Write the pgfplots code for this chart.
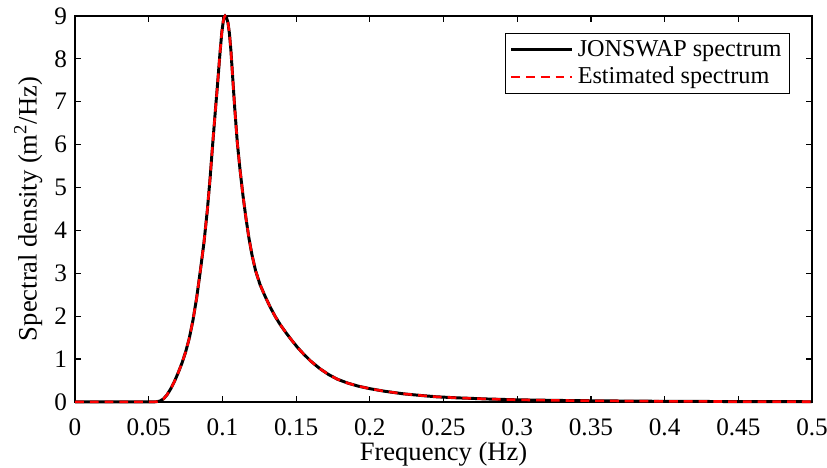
\documentclass[border=0pt]{standalone}
\usepackage{pgfplots}
\pgfplotsset{compat=1.18}
\usepackage{pgfplotstable}
\usepackage{fontspec}
\setmainfont{Liberation Serif}

\pgfplotstableread{
f S
0      0
0.02   0
0.04   0
0.050  0
0.055  0.005
0.0575 0.02
0.060  0.07
0.0625 0.17
0.065  0.31
0.0675 0.48
0.070  0.68
0.0725 0.90
0.075  1.16
0.0775 1.48
0.080  1.90
0.0825 2.42
0.085  3.05
0.0875 3.72
0.0898 4.48
0.0916 5.20
0.0932 5.92
0.0950 6.70
0.0968 7.45
0.0984 8.15
0.0996 8.62
0.1006 8.88
0.1012 8.97
0.1018 9.00
0.1028 8.96
0.1038 8.84
0.1048 8.58
0.1058 8.18
0.1068 7.66
0.1083 6.88
0.1101 6.05
0.1120 5.40
0.1140 4.80
0.1160 4.28
0.1180 3.82
0.1200 3.44
0.1225 3.06
0.1255 2.74
0.1290 2.46
0.1323 2.22
0.1357 2.00
0.1391 1.81
0.1430 1.62
0.1470 1.44
0.1510 1.27
0.1550 1.12
0.1600 0.95
0.1660 0.78
0.1720 0.64
0.1780 0.53
0.1850 0.44
0.1920 0.37
0.2000 0.31
0.2100 0.25
0.2227 0.19
0.2350 0.15
0.2454 0.12
0.2600 0.095
0.2793 0.07
0.3000 0.05
0.3300 0.035
0.3600 0.025
0.4000 0.015
0.4500 0.009
0.5000 0.005
}\jonswap

\pgfplotstableread{
f S
0      0
0.02   0
0.04   0
0.050  0
0.055  0.005
0.0575 0.02
0.060  0.07
0.0625 0.17
0.065  0.31
0.0675 0.48
0.070  0.68
0.0725 0.90
0.075  1.16
0.0775 1.48
0.080  1.90
0.0825 2.42
0.085  3.05
0.0875 3.72
0.0898 4.48
0.0916 5.20
0.0932 5.92
0.0950 6.70
0.0968 7.45
0.0984 8.15
0.0996 8.62
0.1006 8.88
0.1012 8.97
0.1018 9.00
0.1028 8.96
0.1038 8.84
0.1048 8.58
0.1058 8.18
0.1068 7.66
0.1083 6.88
0.1101 6.05
0.1120 5.40
0.1140 4.80
0.1160 4.28
0.1180 3.82
0.1200 3.44
0.1225 3.06
0.1255 2.74
0.1290 2.46
0.1323 2.22
0.1357 2.00
0.1391 1.81
0.1430 1.62
0.1470 1.44
0.1510 1.27
0.1550 1.12
0.1600 0.95
0.1660 0.78
0.1720 0.64
0.1780 0.53
0.1850 0.44
0.1920 0.37
0.2000 0.31
0.2100 0.25
0.2227 0.19
0.2350 0.15
0.2454 0.12
0.2600 0.095
0.2793 0.07
0.3000 0.05
0.3300 0.035
0.3600 0.025
0.4000 0.015
0.4500 0.009
0.5000 0.005
}\estimated

\begin{document}
\begin{tikzpicture}
\begin{axis}[
  scale only axis,
  width=374.4pt, height=196.1pt,
  xmin=0, xmax=0.5, ymin=0, ymax=9,
  xtick={0,0.05,0.1,0.15,0.2,0.25,0.3,0.35,0.4,0.45,0.5},
  xticklabels={0,0.05,0.1,0.15,0.2,0.25,0.3,0.35,0.4,0.45,0.5},
  ytick={0,1,2,3,4,5,6,7,8,9},
  yticklabels={0,1,2,3,4,5,6,7,8,9},
  tick align=inside, xtick pos=both, ytick pos=both,
  major tick length=3pt,
  axis line style={line width=0.6pt, black},
  every tick/.style={line width=0.6pt, black},
  /pgf/number format/assume math mode=true,
  ticklabel style={font=\rmfamily\fontsize{12.8}{15}\selectfont},
  xticklabel shift=5pt,
  yticklabel style={anchor=east, xshift=-0.5pt},
  xlabel={Frequency (Hz)},
  ylabel={Spectral density (m\textsuperscript{2}/Hz)},
  label style={font=\rmfamily\fontsize{13.5}{16}\selectfont},
  xlabel style={at={(rel axis cs:0.5,-0.152)}, anchor=base},
  ylabel style={at={(rel axis cs:-0.052,0.5)}, anchor=base},
  legend style={at={(rel axis cs:0.97,0.956)}, anchor=north east,
    draw=black, line width=0.5pt, font=\rmfamily\fontsize{12.3}{14}\selectfont,
    inner xsep=2pt, inner ysep=1.5pt, row sep=0pt, cells={anchor=west}},
  legend image code/.code={\draw[#1] (0pt,0pt) -- (31pt,0pt);},
  clip=false,
]
\addplot[black, line width=1.5pt] table[x=f, y=S] {\jonswap};
\addlegendentry{JONSWAP spectrum}
\addplot[red, line width=1.3pt, dash pattern=on 4.5pt off 3pt] table[x=f, y=S] {\estimated};
\addlegendentry{Estimated spectrum}
\end{axis}
\pgfresetboundingbox
\path ([xshift=-38.1pt, yshift=-33.5pt]current axis.south west) rectangle ([xshift=7.6pt, yshift=8.1pt]current axis.north east);
\end{tikzpicture}
\end{document}
